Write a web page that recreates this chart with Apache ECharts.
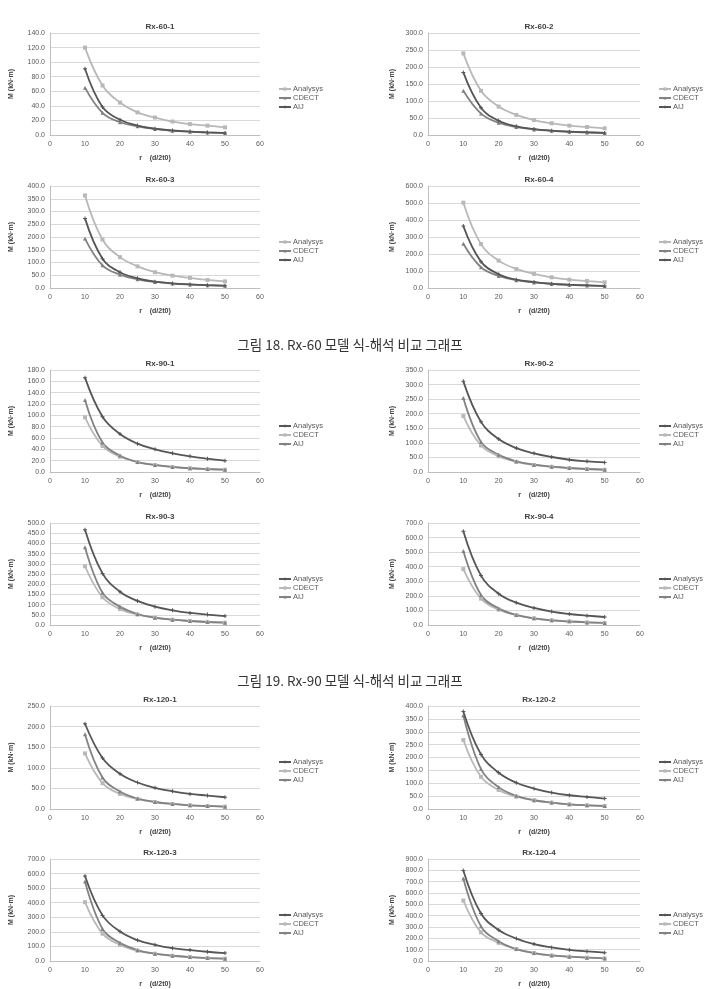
<!DOCTYPE html>
<html>
<head>
<meta charset="utf-8">
<script src="https://cdn.jsdelivr.net/npm/echarts@6/dist/echarts.min.js"></script>
<style>
html, body { margin: 0; padding: 0; background: #fff; }
#main { width: 715px; height: 989px; }
</style>
</head>
<body>
<div id="main"></div>
<script>
var rValues = [10, 15, 20, 25, 30, 35, 40, 45, 50];
var chartTitles = ['Rx-60-1', 'Rx-60-2', 'Rx-60-3', 'Rx-60-4',
    'Rx-90-1', 'Rx-90-2', 'Rx-90-3', 'Rx-90-4',
    'Rx-120-1', 'Rx-120-2', 'Rx-120-3', 'Rx-120-4'];
var yMaxList = [140, 300, 400, 600, 180, 350, 500, 700, 250, 400, 700, 900];
var yStepList = [20, 50, 50, 100, 20, 50, 50, 100, 50, 50, 100, 100];
var xTicks = [0, 10, 20, 30, 40, 50, 60];
var seriesNames = ['Analysys', 'CDECT', 'AIJ'];
var captionTexts = ['그림 18. Rx-60 모델 식-해석 비교 그래프', '그림 19. Rx-90 모델 식-해석 비교 그래프'];

// Rx-60
var analysys60_1 = [120, 68, 44.5, 31, 24, 18.5, 15, 12.8, 10.5];
var cdect60_1 = [65, 30.5, 17.5, 12, 8.3, 6, 4.5, 3.5, 2.6];
var aij60_1 = [91, 38.5, 21, 13, 8.6, 6.2, 4.7, 3.6, 2.8];
var analysys60_2 = [240, 130, 83.5, 59, 44, 34.5, 27.5, 23.5, 19.7];
var cdect60_2 = [130, 63, 36, 23.5, 16.5, 12.3, 9.5, 7.6, 5.9];
var aij60_2 = [184, 80, 42, 25.5, 17.5, 12.8, 9.8, 7.9, 6.2];
var analysys60_3 = [363, 190, 121, 85, 62, 48.5, 39.5, 31.5, 26];
var cdect60_3 = [194, 89, 52, 34, 24, 17.5, 13.5, 10.7, 8.6];
var aij60_3 = [273, 115, 62, 38, 25, 18, 14, 11, 9];
var analysys60_4 = [502, 258, 161, 112, 83, 63, 49, 41, 33.5];
var cdect60_4 = [260, 122, 71, 46, 33, 24, 18.5, 15, 11.5];
var aij60_4 = [364, 155, 81, 49, 35, 25, 19.5, 15.5, 12];
// Rx-90
var analysys90_1 = [166.5, 97.6, 67, 50, 40, 33, 27.6, 23.5, 20];
var cdect90_1 = [96.5, 46, 27, 17.5, 12.2, 8.8, 6.5, 5.1, 4];
var aij90_1 = [127, 52, 29, 17.6, 12.4, 8.9, 6.6, 5.2, 4.1];
var analysys90_2 = [311, 172, 113, 82, 64, 51.5, 42, 36.6, 33];
var cdect90_2 = [192, 91, 54, 34.5, 24, 18, 13.5, 10.2, 7.8];
var aij90_2 = [254, 103, 59.5, 36.6, 25, 18.3, 13.7, 10.3, 8];
var analysys90_3 = [467, 253, 163, 118, 90, 72, 59, 51, 44];
var cdect90_3 = [288, 136, 78, 51, 35.5, 26, 19.5, 14.5, 11.2];
var aij90_3 = [381, 158, 90, 54, 36, 26, 19.6, 14.7, 11.4];
var analysys90_4 = [643, 339, 215, 153, 117, 92, 75.5, 64, 55];
var cdect90_4 = [384, 181, 105, 68, 46, 32, 25, 18, 14];
var aij90_4 = [508, 206, 114, 69, 46, 32, 25, 18, 14];
// Rx-120
var analysys120_1 = [207, 124, 85.5, 64.3, 51.3, 43, 36.6, 32.6, 28.5];
var cdect120_1 = [135, 62.7, 36.6, 24.4, 17, 12.2, 9, 7.3, 5.7];
var aij120_1 = [181.6, 76.5, 42.3, 25.2, 17, 12.2, 9, 7.3, 5.7];
var analysys120_2 = [379, 212, 141, 102, 79.5, 64, 53.4, 47, 40.4];
var cdect120_2 = [268, 125, 74, 48, 34, 24.8, 18.2, 14.3, 11.7];
var aij120_2 = [363.5, 155, 85, 51, 34, 24.8, 18.2, 14.3, 11.7];
var analysys120_3 = [583, 313, 202, 143, 111, 88, 75, 63.5, 54.4];
var cdect120_3 = [404, 188, 111, 70, 50, 36, 27, 20.4, 16];
var aij120_3 = [546, 220, 125, 75, 50, 36, 27, 20.4, 16];
var analysys120_4 = [798, 419, 274, 198, 149, 120, 99, 84.5, 73];
var cdect120_4 = [533, 253, 160, 105, 70, 49.5, 38, 29, 23];
var aij120_4 = [728, 306, 175, 105, 70, 49.5, 38, 29, 23];

var analysysList = [analysys60_1, analysys60_2, analysys60_3, analysys60_4,
    analysys90_1, analysys90_2, analysys90_3, analysys90_4,
    analysys120_1, analysys120_2, analysys120_3, analysys120_4];
var cdectList = [cdect60_1, cdect60_2, cdect60_3, cdect60_4,
    cdect90_1, cdect90_2, cdect90_3, cdect90_4,
    cdect120_1, cdect120_2, cdect120_3, cdect120_4];
var aijList = [aij60_1, aij60_2, aij60_3, aij60_4,
    aij90_1, aij90_2, aij90_3, aij90_4,
    aij120_1, aij120_2, aij120_3, aij120_4];

var chart = (function () {
    var LIGHT = '#b8b8b8', MID = '#828282', DARK = '#565656';
    var PLUS = 'path://M3,0H5V3H8V5H5V8H3V5H0V3H3Z';
    var colLeft = [50, 428], colWidth = [210, 212];
    var rowTop = [33, 186, 370, 523, 706, 859], rowHeight = [102, 102, 102, 102, 103, 103];
    var labelFont = 'Liberation Sans';

    // group 0 : Rx-60, others : Rx-90 / Rx-120
    var styleOf = function (group) {
        if (group == 0) {
            return [{ color: LIGHT, symbol: 'rect' }, { color: MID, symbol: 'triangle' }, { color: DARK, symbol: PLUS }];
        }
        return [{ color: DARK, symbol: PLUS }, { color: LIGHT, symbol: 'rect' }, { color: MID, symbol: 'triangle' }];
    }

    var pairs = function (ys) {
        return rValues.map(function (r, i) { return [r, ys[i]]; });
    }

    var Return = {
        init: function () {
            var myChart = echarts.init(document.getElementById('main'), null, { renderer: 'canvas' });
            var grid = [], xAxis = [], yAxis = [], series = [], title = [], legend = [];

            chartTitles.forEach(function (name, i) {
                var col = i % 2, row = Math.floor(i / 2), group = Math.floor(i / 4);
                var left = colLeft[col], top = rowTop[row];
                var styles = styleOf(group);
                grid.push({ left: left, top: top, width: colWidth[col], height: rowHeight[row] });
                title.push({
                    text: name, left: left + colWidth[col] / 2, top: top - 15, textAlign: 'center',
                    textStyle: { fontSize: 8, fontWeight: 'bold', color: '#404040', fontFamily: labelFont }
                });
                xAxis.push({
                    type: 'value', gridIndex: i, min: 0, max: 60, interval: 10,
                    name: 'r    (d/2t0)', nameLocation: 'middle', nameGap: 20,
                    nameTextStyle: { fontSize: 7, fontWeight: 'bold', color: '#404040', fontFamily: labelFont },
                    axisLine: { lineStyle: { color: '#bfbfbf' } },
                    axisTick: { show: false },
                    axisLabel: { fontSize: 7, color: '#595959', margin: 6, fontFamily: labelFont },
                    splitLine: { show: false }
                });
                yAxis.push({
                    type: 'value', gridIndex: i, min: 0, max: yMaxList[i], interval: yStepList[i],
                    name: 'M (kN·m)', nameLocation: 'middle', nameRotate: 90, nameGap: col == 0 ? 35 : 32,
                    nameTextStyle: { fontSize: 7, fontWeight: 'bold', color: '#404040', fontFamily: labelFont },
                    axisLine: { show: true, lineStyle: { color: '#bfbfbf' } },
                    axisTick: { show: false },
                    axisLabel: {
                        fontSize: 7, color: '#595959', margin: 5, fontFamily: labelFont,
                        formatter: function (v) { return v.toFixed(1); }
                    },
                    splitLine: { lineStyle: { color: '#d9d9d9', width: 1 } }
                });
                var dataSets = [analysysList[i], cdectList[i], aijList[i]];
                var names = [];
                seriesNames.forEach(function (sn, k) {
                    var key = sn + '#' + i;
                    names.push(key);
                    series.push({
                        name: key, type: 'line', xAxisIndex: i, yAxisIndex: i,
                        data: pairs(dataSets[k]),
                        smooth: 0.4,
                        symbol: styles[k].symbol, symbolSize: 4,
                        lineStyle: { color: styles[k].color, width: 1.8 },
                        itemStyle: { color: styles[k].color },
                        z: k == 0 ? 3 : 2
                    });
                });
                legend.push({
                    data: names, orient: 'vertical', left: left + colWidth[col] + 13, top: top + 47,
                    itemWidth: 12, itemHeight: 4, itemGap: 1, selectedMode: false,
                    formatter: function (n) { return n.split('#')[0]; },
                    textStyle: { fontSize: 7.5, color: '#595959', fontFamily: labelFont, padding: [0, 0, 0, -3] }
                });
            });

            [342, 678].forEach(function (y, k) {
                title.push({
                    text: captionTexts[k], left: 345, top: y - 9, textAlign: 'center',
                    textStyle: { fontSize: 13.5, fontWeight: 'normal', color: '#333', fontFamily: 'Noto Sans CJK KR' }
                });
            });

            myChart.setOption({
                backgroundColor: '#fff',
                animation: false,
                title: title,
                legend: legend,
                grid: grid,
                xAxis: xAxis,
                yAxis: yAxis,
                series: series
            });
        }
    }
    return Return;
})();

; (function () {
    chart.init();
})();
</script>
</body>
</html>
